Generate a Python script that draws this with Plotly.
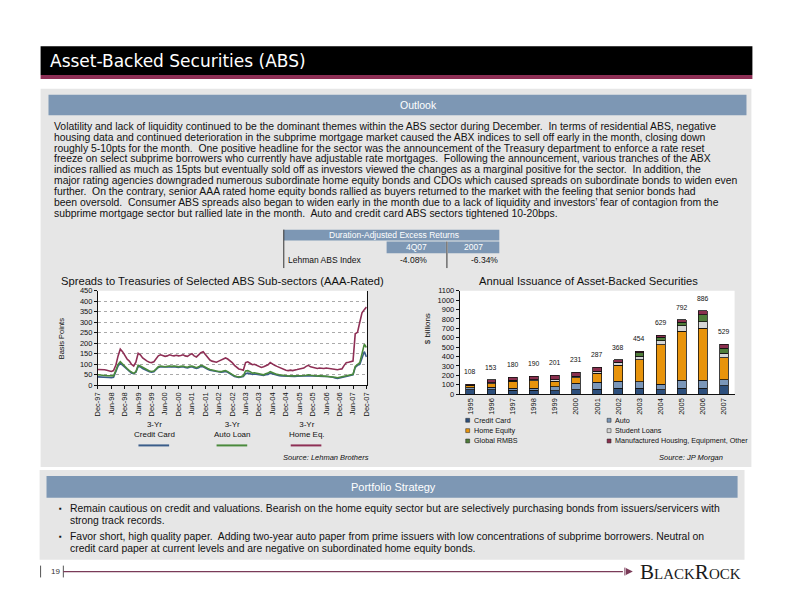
import pandas as pd
import plotly.graph_objects as go

W, H = 792, 612

# ---------------- DATA ----------------
# Spreads to Treasuries (bp), monthly Dec-97 .. Dec-07
dates = pd.date_range("1997-12-01", "2007-12-01", freq="MS")
home_eq = [75,
           75, 76, 74, 72, 68, 66, 70, 95, 140, 172, 160, 140,
           125, 115, 100, 92, 110, 152, 145, 130, 120, 115, 110, 108,
           112, 125, 140, 145, 142, 138, 140, 145, 142, 140, 143, 140,
           142, 145, 140, 138, 145, 150, 140, 135, 145, 155, 160, 145,
           130, 120, 115, 112, 110, 115, 120, 128, 130, 125, 118, 108,
           95, 85, 78, 75, 72, 108, 112, 105, 98, 100, 95, 90,
           85, 88, 92, 98, 108, 100, 95, 90, 85, 80, 75, 72,
           70, 72, 70, 74, 75, 78, 80, 82, 90, 95, 88, 85,
           82, 80, 82, 80, 80, 82, 80, 78, 78, 76, 74, 76,
           78, 95, 108, 110, 112, 115, 245, 252, 300, 345, 360, 372]
auto_loan = [50,
             50, 48, 47, 46, 45, 44, 45, 70, 100, 112, 100, 90,
             80, 70, 62, 57, 65, 95, 92, 85, 78, 72, 68, 66,
             68, 78, 88, 92, 90, 88, 90, 92, 90, 92, 90, 88,
             90, 92, 88, 86, 90, 92, 88, 84, 88, 95, 92, 85,
             80, 75, 72, 70, 68, 66, 65, 68, 70, 65, 58, 50,
             45, 42, 40, 42, 45, 68, 70, 65, 58, 60, 58, 55,
             52, 50, 55, 58, 65, 60, 55, 52, 50, 48, 46, 45,
             44, 45, 45, 44, 45, 46, 46, 47, 48, 50, 48, 46,
             45, 44, 46, 45, 44, 45, 44, 42, 40, 38, 36, 38,
             40, 42, 45, 48, 50, 52, 90, 100, 108, 150, 195, 180]
credit_card = [40,
               40, 39, 38, 37, 37, 36, 38, 65, 92, 105, 95, 85,
               75, 65, 58, 55, 62, 90, 88, 80, 74, 68, 65, 63,
               65, 75, 85, 88, 87, 85, 87, 89, 87, 89, 87, 85,
               87, 88, 85, 83, 86, 88, 84, 80, 84, 90, 88, 80,
               76, 72, 70, 67, 65, 63, 62, 64, 66, 62, 55, 47,
               42, 40, 38, 40, 42, 55, 58, 56, 52, 54, 52, 50,
               48, 47, 50, 52, 58, 55, 50, 48, 46, 45, 44, 43,
               42, 43, 42, 42, 43, 44, 44, 45, 46, 47, 46, 44,
               43, 42, 44, 43, 42, 43, 42, 40, 38, 35, 33, 35,
               38, 40, 43, 46, 48, 50, 85, 95, 100, 130, 160, 135]
spread_ticks = ["Dec-97", "Jun-98", "Dec-98", "Jun-99", "Dec-99", "Jun-00", "Dec-00",
                "Jun-01", "Dec-01", "Jun-02", "Dec-02", "Jun-03", "Dec-03", "Jun-04",
                "Dec-04", "Jun-05", "Dec-05", "Jun-06", "Dec-06", "Jun-07", "Dec-07"]

# Annual issuance ($ billions)
years = ["1995", "1996", "1997", "1998", "1999", "2000", "2001",
         "2002", "2003", "2004", "2005", "2006", "2007"]
iss_credit_card = [45, 45, 40, 40, 38, 45, 55, 63, 63, 45, 63, 62, 92]
iss_auto = [25, 28, 25, 25, 40, 70, 70, 77, 70, 60, 84, 86, 60]
iss_home_equity = [18, 40, 75, 80, 60, 60, 100, 168, 235, 420, 523, 555, 233]
iss_student_loans = [5, 10, 10, 10, 15, 15, 15, 24, 35, 45, 59, 68, 52]
iss_global_rmbs = [0, 0, 0, 0, 0, 0, 2, 6, 35, 35, 35, 72, 50]
iss_mh_other = [15, 30, 30, 35, 48, 41, 45, 30, 16, 24, 28, 43, 42]
iss_totals = [108, 153, 180, 190, 201, 231, 287, 368, 454, 629, 792, 886, 529]

# Table
table_cols = ["4Q07", "2007"]
table_row = "Lehman ABS Index"
table_vals = ["-4.08%", "-6.34%"]

outlook_lines = [
    "Volatility and lack of liquidity continued to be the dominant themes within the ABS sector during December.  In terms of residential ABS, negative",
    "housing data and continued deterioration in the subprime mortgage market caused the ABX indices to sell off early in the month, closing down",
    "roughly 5-10pts for the month.  One positive headline for the sector was the announcement of the Treasury department to enforce a rate reset",
    "freeze on select subprime borrowers who currently have adjustable rate mortgages.  Following the announcement, various tranches of the ABX",
    "indices rallied as much as 15pts but eventually sold off as investors viewed the changes as a marginal positive for the sector.  In addition, the",
    "major rating agencies downgraded numerous subordinate home equity bonds and CDOs which caused spreads on subordinate bonds to widen even",
    "further.  On the contrary, senior AAA rated home equity bonds rallied as buyers returned to the market with the feeling that senior bonds had",
    "been oversold.  Consumer ABS spreads also began to widen early in the month due to a lack of liquidity and investors\u2019 fear of contagion from the",
    "subprime mortgage sector but rallied late in the month.  Auto and credit card ABS sectors tightened 10-20bps.",
]
strategy_lines = [
    ("Remain cautious on credit and valuations. Bearish on the home equity sector but are selectively purchasing bonds from issuers/servicers with", True),
    ("strong track records.", False),
    ("Favor short, high quality paper.  Adding two-year auto paper from prime issuers with low concentrations of subprime borrowers. Neutral on", True),
    ("credit card paper at current levels and are negative on subordinated home equity bonds.", False),
]

# ---------------- STYLE ----------------
FONT = "Liberation Sans"
C_CC, C_AUTO, C_HE = "#3a5d8a", "#4a8a3c", "#8e2f55"
B_CC, B_AUTO, B_HE, B_SL, B_RMBS, B_MH = "#2d4f7c", "#7b97b9", "#e8940c", "#d6d6d6", "#4f7d3a", "#8a2f4e"
BLUEGREY = "#7d97b4"
PANEL = "#e6e6e6"
MAROON = "#8e2f55"


def X(px):
    return px / W


def Y(py):
    return 1 - py / H


fig = go.Figure()

# Line chart
for name, vals, col in [("3-Yr Credit Card", credit_card, C_CC),
                        ("3-Yr Auto Loan", auto_loan, C_AUTO),
                        ("3-Yr Home Eq.", home_eq, C_HE)]:
    fig.add_trace(go.Scatter(x=dates, y=vals, mode="lines", name=name,
                             line=dict(color=col, width=1.6), xaxis="x", yaxis="y",
                             showlegend=False))

# Bar chart (positions = category index, labelled with years)
xpos = list(range(len(years)))
for name, vals, col in [("Credit Card", iss_credit_card, B_CC),
                        ("Auto", iss_auto, B_AUTO),
                        ("Home Equity", iss_home_equity, B_HE),
                        ("Student Loans", iss_student_loans, B_SL),
                        ("Global RMBS", iss_global_rmbs, B_RMBS),
                        ("Manufactured Housing, Equipment, Other", iss_mh_other, B_MH)]:
    fig.add_trace(go.Bar(x=xpos, y=vals, name=name, width=0.42,
                         marker=dict(color=col, line=dict(color="#111", width=0.8)),
                         xaxis="x2", yaxis="y2", showlegend=False))

shapes = []
ann = []


def rect(x0, y0, x1, y1, fill, line=None, lw=0):
    shapes.append(dict(type="rect", xref="paper", yref="paper", x0=X(x0), x1=X(x1), y0=Y(y1), y1=Y(y0),
                       fillcolor=fill, line=dict(color=line or fill, width=lw), layer="below"))


def hline(x0, x1, y, col, w=1):
    shapes.append(dict(type="line", xref="paper", yref="paper", x0=X(x0), x1=X(x1), y0=Y(y), y1=Y(y),
                       line=dict(color=col, width=w), layer="above"))


def vline(x, y0, y1, col, w=1):
    shapes.append(dict(type="line", xref="paper", yref="paper", x0=X(x), x1=X(x), y0=Y(y0), y1=Y(y1),
                       line=dict(color=col, width=w), layer="above"))


def text(x, y, s, size=9, color="#111", xa="left", ya="middle", angle=0, family=FONT, **kw):
    ann.append(dict(x=X(x), y=Y(y), xref="paper", yref="paper", text=s, showarrow=False,
                    xanchor=xa, yanchor=ya, textangle=angle,
                    font=dict(size=size, color=color, family=family), **kw))


# Header
rect(36, 43, 756, 72, "#000000")
rect(36, 72, 756, 76, MAROON)
text(43, 58, "Asset-Backed Securities (ABS)", size=17, color="white", family="DejaVu Sans")

# Upper panel
rect(36, 86, 755, 470, PANEL)
rect(44, 92, 750, 113, BLUEGREY)
text(398, 102.5, "Outlook", size=10.5, color="white")
for i, line in enumerate(outlook_lines):
    text(48, 124 + i * 11.1, line, size=10.4)

# Table
rect(282, 229, 500, 240, BLUEGREY)
rect(386, 241, 446, 253, BLUEGREY)
rect(448, 241, 500, 253, BLUEGREY)
vline(282, 229, 268, "#333", 1)
vline(447, 241, 268, "#333", 1)
text(393, 234.5, "Duration-Adjusted Excess Returns", size=8.5, color="white", xa="center")
text(416, 247, table_cols[0], size=8.5, color="white", xa="center")
text(474, 247, table_cols[1], size=8.5, color="white", xa="center")
text(284, 260, table_row, size=8.5)
text(413, 260, table_vals[0], size=8.5, xa="center")
text(485, 260, table_vals[1], size=8.5, xa="center")

# Plot areas (white)
rect(94, 291, 366, 387, "white")
rect(460, 291, 738, 396, "white")

# Chart titles
text(220, 281, "Spreads to Treasuries of Selected ABS Sub-sectors (AAA-Rated)", size=11.2, xa="center")
text(590, 281, "Annual Issuance of Asset-Backed Securities", size=11.2, xa="center")
text(57, 339, "Basis Points", size=7.5, xa="center", angle=-90)
text(427, 330, "$ billions", size=8, xa="center", angle=-90)

# Line-chart legend
for cx, lab, col in [(151, "3-Yr<br>Credit Card", C_CC), (230, "3-Yr<br>Auto Loan", C_AUTO),
                     (305, "3-Yr<br>Home Eq.", C_HE)]:
    text(cx, 432, lab, size=8, xa="center")
    hline(cx - 16, cx + 15, 448, col, 2)

# Bar legend
leg = [("Credit Card", B_CC), ("Auto", B_AUTO), ("Home Equity", B_HE),
       ("Student Loans", B_SL), ("Global RMBS", B_RMBS),
       ("Manufactured Housing, Equipment, Other", B_MH)]
for i, (lab, col) in enumerate(leg):
    r, c = divmod(i, 2)
    sx = 466 if c == 0 else 609
    sy = 422.5 + r * 10.5
    shapes.append(dict(type="rect", xref="paper", yref="paper", x0=X(sx), x1=X(sx + 4), y0=Y(sy + 2), y1=Y(sy - 2),
                       fillcolor=col, line=dict(color="#222", width=0.5), layer="above"))
    text(sx + 6, sy, lab, size=7.2)

# Bar total labels
for xp, tot in zip(xpos, iss_totals):
    ann.append(dict(x=xp, y=tot, xref="x2", yref="y2", text=str(tot), showarrow=False,
                    yanchor="bottom", yshift=7, font=dict(size=6.8, color="#111", family=FONT)))

# Sources
text(370, 460, "<i>Source: Lehman Brothers</i>", size=7.5, xa="right")
text(728, 460, "<i>Source: JP Morgan</i>", size=7.5, xa="right")

# Lower panel
rect(35, 473, 748, 564, PANEL)
rect(42, 479, 741, 501, BLUEGREY)
text(393, 490, "Portfolio Strategy", size=11, color="white", xa="center")
ys = [512, 524.5, 540.5, 552.5]
for (line, bullet), yy in zip(strategy_lines, ys):
    if bullet:
        text(56, yy, "\u25aa", size=8, xa="center")
    text(64, yy, line, size=10.4)

# Footer
vline(36, 570, 582, "#555", 1)
text(45, 576, "19", size=8, color="#333")
vline(59, 570, 582, "#555", 1)
hline(59, 625, 576, "#7a3b58", 1.2)
vline(627, 572, 580, "#7a3b58", 1)
shapes.append(dict(type="path", xref="paper", yref="paper",
                   path=f"M {X(628)} {Y(572.5)} L {X(635)} {Y(576)} L {X(628)} {Y(579.5)} Z",
                   fillcolor="#7a3b58", line=dict(color="#7a3b58", width=0), layer="above"))
text(640, 576,
     "<span style='font-size:21px'>B</span><span style='font-size:15px'>LACK</span>"
     "<span style='font-size:21px'>R</span><span style='font-size:15px'>OCK</span>",
     size=15, color="#1a1a1a", family="Liberation Serif")

tickfont = dict(size=7.5, family=FONT, color="#111")
fig.update_layout(
    width=W, height=H, autosize=False,
    margin=dict(l=0, r=0, t=0, b=0),
    paper_bgcolor="white", plot_bgcolor="rgba(0,0,0,0)",
    barmode="stack",
    shapes=shapes, annotations=ann,
    xaxis=dict(domain=[X(94), X(366)], anchor="y", type="date",
               range=["1997-12-01", "2007-12-06"],
               tickvals=list(dates[::6]), ticktext=spread_ticks, tickangle=-90,
               tickfont=tickfont, showline=True, linecolor="#111", linewidth=1,
               ticks="outside", ticklen=3, tickcolor="#111", showgrid=False, zeroline=False),
    yaxis=dict(domain=[Y(387), Y(291)], anchor="x", range=[0, 450], dtick=50,
               tickfont=tickfont, showline=True, mirror=True, linecolor="#111", linewidth=1,
               ticks="outside", ticklen=3, tickcolor="#111",
               showgrid=True, gridcolor="#aaaaaa", griddash="dot", gridwidth=1, zeroline=False),
    xaxis2=dict(domain=[X(460), X(738)], anchor="y2", type="linear", range=[-0.5, 12.5],
                tickvals=xpos, ticktext=years,
                tickangle=-90, tickfont=tickfont, showline=True, linecolor="#111", linewidth=1,
                ticks="", showgrid=False, zeroline=False),
    yaxis2=dict(domain=[Y(396), Y(291)], anchor="x2", range=[0, 1100], dtick=100,
                tickfont=tickfont, showline=True, linecolor="#111", linewidth=1,
                ticks="outside", ticklen=3, tickcolor="#111", showgrid=False, zeroline=False),
)

fig.write_html("out.html", config={"displayModeBar": False},
               post_script="document.body.style.margin='0px';document.documentElement.style.overflow='hidden';")
